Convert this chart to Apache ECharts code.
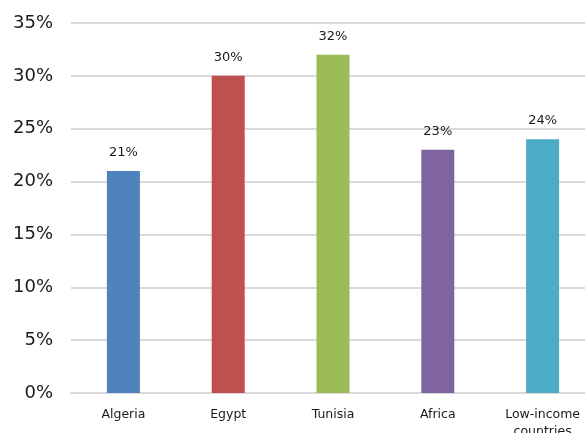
<!DOCTYPE html>
<html>
<head>
<meta charset="utf-8">
<script src="https://cdn.jsdelivr.net/npm/echarts@6/dist/echarts.min.js"></script>
<style>
  html, body { margin: 0; padding: 0; background: #fff; }
  #chart { width: 585px; height: 433px; }
</style>
</head>
<body>
<div id="chart"></div>
<script>
// Share of population (%) by country / region
const categories = ['Algeria', 'Egypt', 'Tunisia', 'Africa', 'Low-income\ncountries'];
const values = [21, 30, 32, 23, 24];
const barColors = ['#4F81BD', '#C0504D', '#9BBB59', '#8064A2', '#4BACC6'];
const yTicks = [0, 5, 10, 15, 20, 25, 30, 35];

const fontFamily = '"DejaVu Sans", sans-serif';

const chart = echarts.init(document.getElementById('chart'), null, { renderer: 'canvas' });

chart.setOption({
  animation: false,
  grid: { left: 71, top: 23, width: 524, bottom: 40, outerBoundsMode: 'none', containLabel: false },
  xAxis: {
    type: 'category',
    data: categories,
    axisTick: { show: false },
    axisLine: { show: true, lineStyle: { color: '#d9d9d9', width: 2 } },
    axisLabel: {
      color: '#1a1a1a',
      fontSize: 12.5,
      fontFamily: fontFamily,
      margin: 13,
      lineHeight: 17,
      interval: 0
    }
  },
  yAxis: {
    type: 'value',
    min: 0,
    max: 35,
    interval: 5,
    axisLine: { show: false },
    axisTick: { show: false },
    splitLine: { lineStyle: { color: '#d9d9d9', width: 2 } },
    axisLabel: {
      color: '#1a1a1a',
      fontSize: 18,
      fontFamily: fontFamily,
      margin: 18,
      formatter: v => yTicks.includes(v) ? v + '%' : ''
    }
  },
  series: [{
    type: 'bar',
    barWidth: 33,
    data: values.map((v, i) => ({ value: v, itemStyle: { color: barColors[i] } })),
    label: {
      show: true,
      position: 'top',
      distance: 12,
      color: '#1a1a1a',
      fontSize: 13,
      fontFamily: fontFamily,
      formatter: p => p.value + '%'
    }
  }]
});
</script>
</body>
</html>
